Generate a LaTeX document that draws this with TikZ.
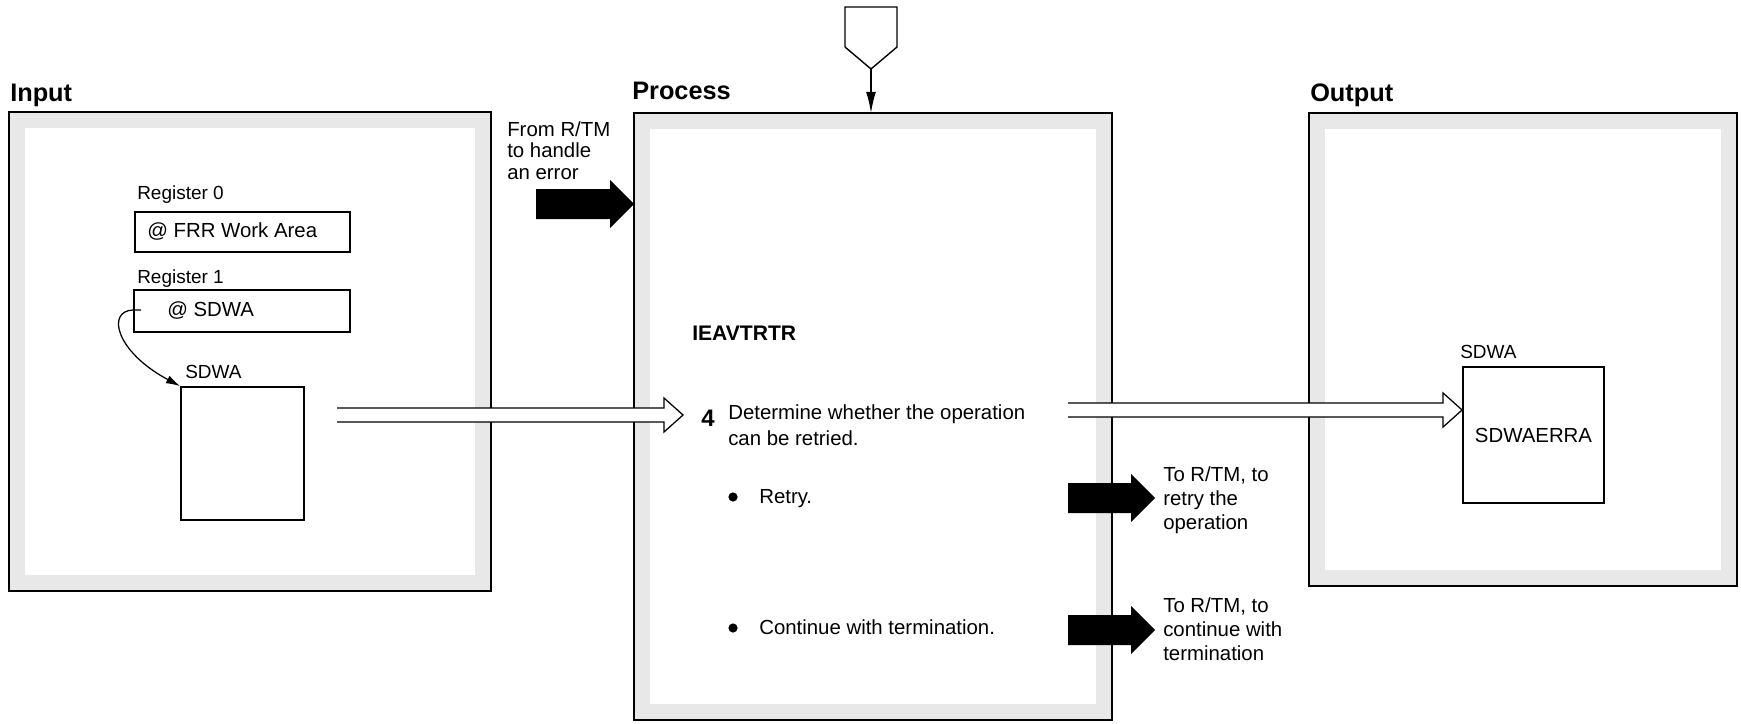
\documentclass[tikz,border=0pt]{standalone}
\usepackage{fontspec}
\setmainfont{Liberation Sans}
\usetikzlibrary{calc,arrows.meta}

\newcommand{\txtfont}{\fontsize{14.5}{17.5}\selectfont}
\newcommand{\lblfont}{\fontsize{13.5}{16}\selectfont}
\newcommand{\headfont}{\fontsize{18}{21}\selectfont\bfseries}

% framed panel with a grey inner band
\newcommand{\ioframe}[4]{%
  \fill[gray!18] (#1,#2) rectangle (#3,#4);
  \fill[white] ($(#1,#2)+(16,16)$) rectangle ($(#3,#4)+(-16,-16)$);
  \draw[line width=1.9pt] (#1,#2) rectangle (#3,#4);
}
% solid black arrow, #1 = tail, #2 = tip
\newcommand{\blockarrow}[2]{%
  \fill ($(#1)+(0,-15)$) -- ($(#2)+(-24,-15)$) -- ($(#2)+(-24,-24)$) -- (#2)
     -- ($(#2)+(-24,24)$) -- ($(#2)+(-24,15)$) -- ($(#1)+(0,15)$) -- cycle;
}
% open data-flow arrow, #1 = tail, #2 = tip
\newcommand{\hollowarrow}[2]{%
  \fill[white] ($(#1)+(0,-7)$) -- ($(#2)+(-19,-7)$) -- ($(#2)+(-19,-17)$) -- (#2)
     -- ($(#2)+(-19,17)$) -- ($(#2)+(-19,7)$) -- ($(#1)+(0,7)$) -- cycle;
  \draw[line width=0.9pt] ($(#1)+(0,-7)$) -- ($(#2)+(-19,-7)$) -- ($(#2)+(-19,-17)$) -- (#2)
     -- ($(#2)+(-19,17)$) -- ($(#2)+(-19,7)$) -- ($(#1)+(0,7)$);
}

\begin{document}
\begin{tikzpicture}[x=0.025cm, y=-0.025cm,
  box/.style={draw, line width=1.3pt, fill=white, inner sep=0pt},
  txt/.style={font=\txtfont, inner sep=0pt, anchor=base west, align=left},
  lbl/.style={font=\lblfont, inner sep=0pt, anchor=base west},
  head/.style={font=\headfont, inner sep=0pt, anchor=base west},
  dot/.style={circle, fill, inner sep=0pt, minimum size=0.23cm}]
\useasboundingbox (0,0) rectangle (1741,723);

% panels
\ioframe{9}{112}{491}{591}
\ioframe{634}{113}{1112}{720}
\ioframe{1309}{113}{1737}{586}
\node[head] (input) at (10,101) {Input};
\node[head] (process) at (632,99) {Process};
\node[head] (output) at (1310,101) {Output};

% input
\node[lbl] (reg0) at (137,199) {Register 0};
\node[box, minimum width=5.375cm, minimum height=1cm] (frr) at (242.5,232) {};
\node[txt, anchor=west] (frrtxt) at (147,232) {@ FRR Work Area};
\node[lbl] (reg1) at (137,283) {Register 1};
\node[box, minimum width=5.4cm, minimum height=1.05cm] (sdwaptr) at (242,311) {};
\node[txt, anchor=west] (sdwaptrtxt) at (167,311) {@ SDWA};
\node[lbl] (sdwalbl) at (185,378) {SDWA};
\node[box, minimum width=3.075cm, minimum height=3.325cm] (sdwain) at (242.5,453.5) {};
\coordinate (ptr) at (141,310);
\draw[line width=0.9pt, -{Latex[length=10pt,width=6pt]}]
  (ptr) -- (133,310) .. controls (106,311) and (116,352) .. (sdwain.north west);
\coordinate (in1) at (337,415);
\coordinate (in2) at (683,415);
\hollowarrow{in1}{in2}

% process
\draw[line width=1pt, fill=white] (845,7) -- (897,7) -- (897,47) -- (871,69) -- (845,47) -- cycle;
\coordinate (conn) at (871,69);
\coordinate (proctop) at (871,113);
\draw[line width=1pt, -{Latex[length=15pt,width=7pt]}] (conn) -- (proctop);

\node[txt, font=\fontsize{14.5}{15}\selectfont] (from) at (507,179) {From R/TM\\to handle\\an error};
\coordinate (fromtail) at (536,204);
\coordinate (fromtip) at (634,204);
\blockarrow{fromtail}{fromtip}

\node[txt, font=\fontsize{15}{18}\selectfont\bfseries] (ieav) at (692,340) {IEAVTRTR};
\node[txt, font=\fontsize{17}{20}\selectfont\bfseries] (stepno) at (701,426) {4};
\node[txt, font=\fontsize{14.5}{17.8}\selectfont] (step) at (728,445) {Determine whether the operation\\can be retried.};
\node[dot] (b1) at (733,497) {};
\node[txt] (retry) at (759,503) {Retry.};
\node[dot] (b2) at (733,628) {};
\node[txt] (cont) at (759,634) {Continue with termination.};

\coordinate (r1tail) at (1068,498);
\coordinate (r1tip) at (1155,498);
\blockarrow{r1tail}{r1tip}
\coordinate (r2tail) at (1068,630);
\coordinate (r2tip) at (1155,630);
\blockarrow{r2tail}{r2tip}
\node[txt, font=\fontsize{14.5}{17}\selectfont] (toretry) at (1163,529) {To R/TM, to\\retry the\\operation};
\node[txt, font=\fontsize{14.5}{17}\selectfont] (toterm) at (1163,660) {To R/TM, to\\continue with\\termination};

% output
\node[lbl] (sdwaoutlbl) at (1460,358) {SDWA};
\node[box, font=\txtfont, minimum width=3.525cm, minimum height=3.4cm] (sdwaout) at (1533.5,435) {SDWAERRA};
\coordinate (out1) at (1068,410);
\coordinate (out2) at (sdwaout.west |- out1);
\hollowarrow{out1}{out2}
\end{tikzpicture}
\end{document}
